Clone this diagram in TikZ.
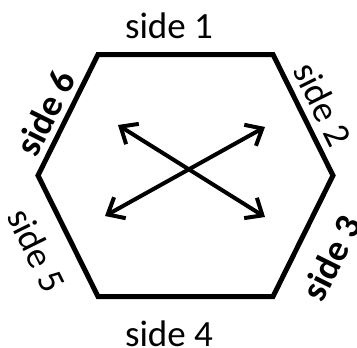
\documentclass[tikz,border=0pt]{standalone}
\usepackage{fontspec}
\setmainfont{Carlito}
\usetikzlibrary{arrows.meta}
\tikzset{
  hexline/.style={line width=5pt,line join=miter},
  crossarrow/.style={{Straight Barb[length=14pt,width=24pt]}-{Straight Barb[length=14pt,width=24pt]},line width=4pt},
  sidelabel/.style={font=\fontsize{37}{42}\selectfont,inner sep=0pt},
  boldlabel/.style={sidelabel,font=\fontsize{37}{42}\selectfont\bfseries},
}

\begin{document}
\begin{tikzpicture}[x=1pt,y=-1pt]
  \useasboundingbox (0,0) rectangle (357,348);
  % corners of the hexagon
  \coordinate (c1) at (98,54.5); \coordinate (c2) at (273,54.5); \coordinate (c3) at (333,175.5);
  \coordinate (c4) at (273,296.5); \coordinate (c5) at (98,296.5); \coordinate (c6) at (38,175.5);
  \draw[hexline] (c1)--(c2)--(c3)--(c4)--(c5)--(c6)--cycle;
  % side labels
  \node[sidelabel] (s1) at (169,25.8) {side 1};
  \node[sidelabel,rotate=-63.6] (s2) at (323,104) {side 2};
  \node[boldlabel,rotate=63.6] (s3) at (331,258) {side 3};
  \node[sidelabel] (s4) at (169,333.5) {side 4};
  \node[sidelabel,rotate=-63.6] (s5) at (37,250) {side 5};
  \node[boldlabel,rotate=63.6] (s6) at (45,113) {side 6};
  % crossing arrows
  \coordinate (a1) at (118,125); \coordinate (a2) at (265,217);
  \coordinate (b1) at (105,216); \coordinate (b2) at (265,127);
  \draw[crossarrow] (a1)--(a2); \draw[crossarrow] (b1)--(b2);
\end{tikzpicture}
\end{document}
